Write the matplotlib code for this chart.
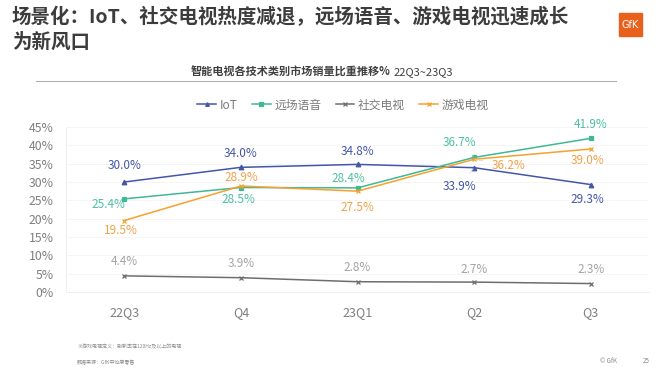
import matplotlib
matplotlib.use("Agg")
import matplotlib.pyplot as plt
from matplotlib.patches import Rectangle
from matplotlib.lines import Line2D

plt.rcParams["font.family"] = ["Noto Sans CJK SC", "DejaVu Sans"]

QUARTERS = ["22Q3", "Q4", "23Q1", "Q2", "Q3"]
IOT = [30.0, 34.0, 34.8, 33.9, 29.3]
VOICE = [25.4, 28.5, 28.4, 36.7, 41.9]
SOCIAL = [4.4, 3.9, 2.8, 2.7, 2.3]
GAME = [19.5, 28.9, 27.5, 36.2, 39.0]
Y_TICKS = [0, 5, 10, 15, 20, 25, 30, 35, 40, 45]

# (name, values, line colour, label colour, marker, label offsets in px)
SERIES = [
    ("IoT", IOT, "#4356a8", "#4356a8", "^",
     [(0, 16), (0, 14), (0, 13), (-15, -19), (-3, -15)]),
    ("远场语音", VOICE, "#3fb896", "#4dbfa6", "s",
     [(-16, -6), (-2, -12), (-9, 9), (-15, 15), (0, 14)]),
    ("社交电视", SOCIAL, "#6e6e6e", "#a3a3a3", "x",
     [(0, 14), (0, 14), (0, 14), (0, 13), (0, 14)]),
    ("游戏电视", GAME, "#f5a12e", "#f0a24a", "x",
     [(-3, -10), (0, 9), (0, -16), (34, -6), (-3, -12)]),
]

fig = plt.figure(figsize=(6.6, 3.8), dpi=100)
ax = fig.add_axes([66 / 660, 1 - 292 / 380, 583 / 660, 165 / 380])

x = list(range(len(QUARTERS)))
for name, vals, col, tcol, mk, offs in SERIES:
    ax.plot(x, vals, color=col, lw=1.1, marker=mk, ms=3.3, mew=0.9, label=name)
    for i, (v, (dx, dy)) in enumerate(zip(vals, offs)):
        lead = abs(dx) > 10 and i == 3
        ax.annotate(f"{v:.1f}%", (i, v), xytext=(dx * 0.72, dy * 0.72),
                    textcoords="offset points", ha="center", va="center",
                    fontsize=8.5, color=tcol,
                    arrowprops=dict(arrowstyle="-", color="#d8d8d8", lw=0.6,
                                    shrinkA=4, shrinkB=1) if lead else None)

ax.set_xlim(-0.5, len(QUARTERS) - 0.5)
ax.set_ylim(0, 45)
ax.set_yticks(Y_TICKS)
ax.set_yticklabels([f"{t}%" for t in Y_TICKS])
ax.set_xticks(x)
ax.set_xticklabels(QUARTERS)
ax.tick_params(axis="y", length=0, pad=9, labelsize=8.8, labelcolor="#7f7f7f")
ax.tick_params(axis="x", length=0, pad=10, labelsize=9, labelcolor="#7f7f7f")
ax.grid(axis="y", color="#f4f4f4", lw=0.6)
ax.set_axisbelow(True)
for s in ("top", "right"):
    ax.spines[s].set_visible(False)
for s in ("left", "bottom"):
    ax.spines[s].set_color("#ececec")
    ax.spines[s].set_linewidth(0.6)

ax.legend(loc="center", bbox_to_anchor=(343 / 660, 1 - 105 / 380),
          bbox_transform=fig.transFigure, ncol=4, frameon=False, fontsize=8.5,
          labelcolor="#7a7a7a", handlelength=1.6, handletextpad=0.3,
          columnspacing=1.2, markerscale=0.8)

# header
fig.text(12 / 660, 1 - 17 / 380, "场景化：IoT、社交电视热度减退，远场语音、游戏电视迅速成长",
         fontsize=14, fontweight="bold", color="#3c3c3c", va="center", ha="left")
fig.text(12 / 660, 1 - 42 / 380, "为新风口",
         fontsize=14, fontweight="bold", color="#3c3c3c", va="center", ha="left")
fig.patches.append(Rectangle((619 / 660, 1 - 36 / 380), 23 / 660, 23 / 380,
                             transform=fig.transFigure, color="#e8601c"))
fig.text(630 / 660, 1 - 25 / 380, "GfK", fontsize=7, color="white",
         ha="center", va="center", family="DejaVu Sans")

sub = fig.text(191 / 660, 1 - 72 / 380, "智能电视各技术类别市场销量比重推移%",
               fontsize=8, fontweight="bold", color="#404040", va="center", ha="left")
fig.canvas.draw()
sub_end = sub.get_window_extent().x1 / 660
fig.text(sub_end + 3 / 660, 1 - 72 / 380, "22Q3~23Q3",
         fontsize=8, color="#404040", va="center", ha="left")
fig.lines.append(Line2D([36 / 660, 616 / 660], [1 - 81 / 380, 1 - 81 / 380],
                        transform=fig.transFigure, color="#b0b0b0", lw=0.8))

# footer
fig.text(77 / 660, 1 - 347 / 380, "※游戏电视定义：刷新率在120Hz及以上的电视",
         fontsize=3.6, color="#8a8a8a", va="center")
fig.text(77 / 660, 1 - 362 / 380, "数据来源：GfK中怡康零售",
         fontsize=3.6, color="#8a8a8a", va="center")
fig.text(600 / 660, 1 - 361 / 380, "© GfK", fontsize=4.5, color="#8a8a8a", va="center")
fig.text(643 / 660, 1 - 361 / 380, "25", fontsize=4.5, color="#8a8a8a", va="center")

fig.savefig("out.png", dpi=100)
